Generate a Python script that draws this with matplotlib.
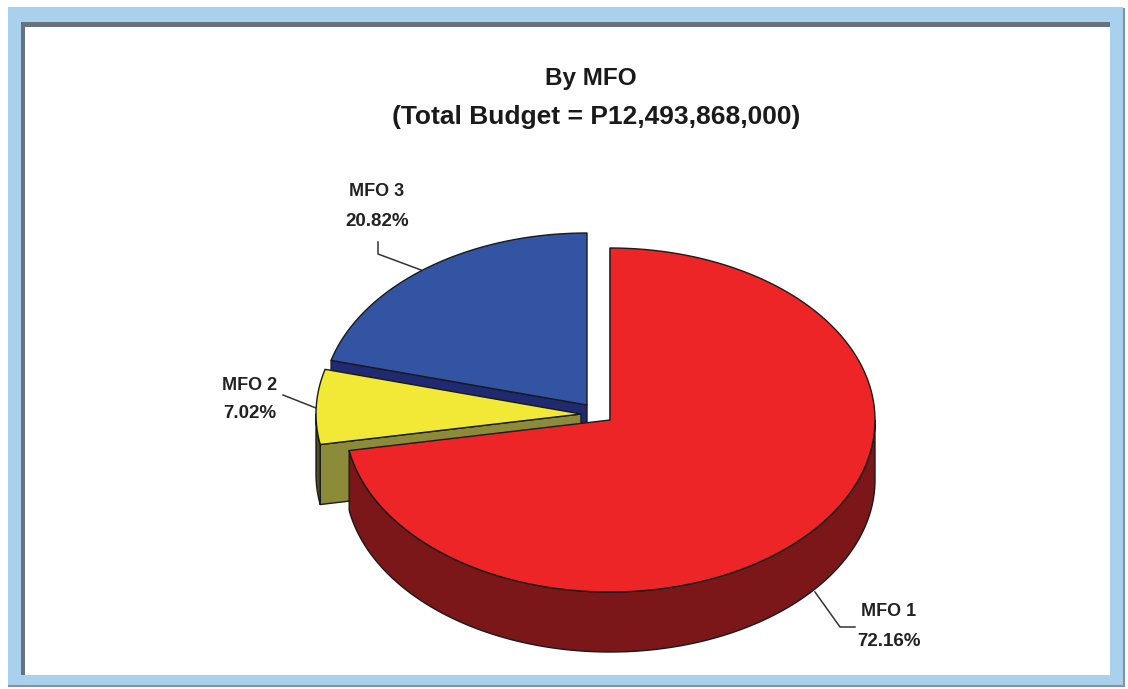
import numpy as np
import matplotlib
matplotlib.use("Agg")
import matplotlib.pyplot as plt
from matplotlib.patches import Polygon, Rectangle

# Budget shares by major final output, in percent
labels = ["MFO 1", "MFO 2", "MFO 3"]
shares = [72.16, 7.02, 20.82]
title_lines = ["By MFO", "(Total Budget = P12,493,868,000)"]

# Top face, side wall and cut-face colours for each slice
top_colors = ["#EE2526", "#F1E936", "#3353A3"]
wall_colors = ["#7B1619", "#4E4E20", "#1E2A70"]
cut_colors = ["#7B1619", "#8B8B3A", "#1F2A72"]

RX, RY, DEPTH = 265, 172, 60
centers = [(610, 420), (581, 414), (587, 405)]

fig = plt.figure(figsize=(11.28, 6.89), dpi=100, facecolor="#FDFEFE")
ax = fig.add_axes([0, 0, 1, 1])
ax.set_xlim(0, 1128)
ax.set_ylim(689, 0)
ax.axis("off")

# Picture frame: pale blue band with a darker inner line on top and left
ax.add_patch(Rectangle((8, 7), 1115, 678, fc="#A9D0EC", ec="none", zorder=0))
ax.add_patch(Rectangle((21, 22), 1089, 653, fc="#66727F", ec="none", zorder=1))
ax.add_patch(Rectangle((25, 27), 1085, 648, fc="#FFFFFF", ec="none", zorder=2))
ax.plot([1124, 1124], [9, 686], color="#7E95A8", lw=1.5, zorder=1)
ax.plot([9, 1124], [686, 686], color="#7E95A8", lw=1.5, zorder=1)


def rim(center, a0, a1, drop=0.0):
    """Points on the elliptical rim between two angles in degrees."""
    t = np.radians(np.linspace(a0, a1, 240))
    return np.column_stack([center[0] + RX * np.cos(t),
                            center[1] - RY * np.sin(t) + drop])


def draw_slice(i, a_start, a_end, layer):
    """Draw one slice going clockwise from a_start down to a_end."""
    c = centers[i]
    outline = dict(ec="#1A1A1A", lw=1.0, joinstyle="round", zorder=5 + layer)
    # Cut face along the leading radius, which is the one facing the viewer
    tip = rim(c, a_start, a_start)[0]
    corners = [c, tip, (tip[0], tip[1] + DEPTH), (c[0], c[1] + DEPTH)]
    ax.add_patch(Polygon(corners, fc=cut_colors[i], **outline))
    # Outer wall, only for the part of the rim on the near side
    lo, hi = min(a_start, a_end), max(a_start, a_end)
    for k in (-360, 0):
        s, e = max(lo, 180 + k), min(hi, 360 + k)
        if e > s:
            wall = np.vstack([rim(c, s, e), rim(c, e, s, DEPTH)])
            ax.add_patch(Polygon(wall, fc=wall_colors[i], **outline))
    # Top face
    top = np.vstack([[c], rim(c, a_start, a_end)])
    ax.add_patch(Polygon(top, fc=top_colors[i], **outline))


# Slices run clockwise from twelve o'clock; the front slice is painted last
angles = 90 - 3.6 * np.cumsum([0] + shares)
for layer, idx in enumerate((2, 1, 0)):
    draw_slice(idx, angles[idx], angles[idx + 1], layer)

# Leader lines
leader_color = "#333333"
ax.plot([815, 840, 855], [592, 627, 627], color=leader_color, lw=1.1, zorder=9)
ax.plot([283, 316], [395, 408], color=leader_color, lw=1.1, zorder=4)
ax.plot([378, 378, 421], [242, 254, 270], color=leader_color, lw=1.1, zorder=4)

# Slice labels
font = ["Liberation Sans", "DejaVu Sans"]
label_pos = [(889, 612, 642), (250, 385, 414), (377, 192, 222)]
for name, share, (x, y1, y2) in zip(labels, shares, label_pos):
    ax.text(x, y1, name, ha="center", va="center", family=font,
            weight="bold", fontsize=13, color="#222222", zorder=10)
    ax.text(x, y2, f"{share:.2f}%", ha="center", va="center", family=font,
            weight="bold", fontsize=13.5, color="#222222", zorder=10)

# Title
ax.text(591, 79, title_lines[0], ha="center", va="center", family=font,
        weight="bold", fontsize=17.5, color="#1A1A1A", zorder=10)
ax.text(596, 117, title_lines[1], ha="center", va="center", family=font,
        weight="bold", fontsize=19, color="#1A1A1A", zorder=10)

fig.savefig("out.png", dpi=100, facecolor=fig.get_facecolor())
